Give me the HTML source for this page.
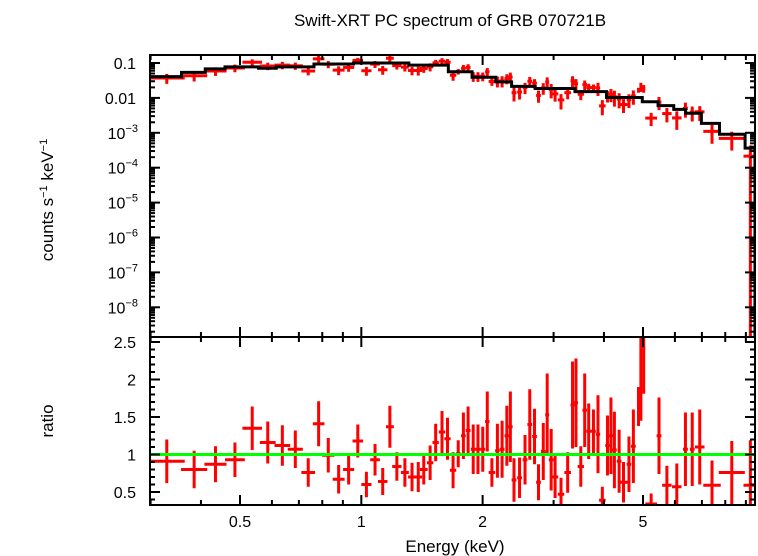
<!DOCTYPE html>
<html><head><meta charset="utf-8"><style>
html,body{margin:0;padding:0;background:#fff;}
svg{display:block;font-family:"Liberation Sans",sans-serif;}
</style></head><body>
<svg id="chart" width="758" height="556" viewBox="0 0 758 556" xmlns="http://www.w3.org/2000/svg">
<text x="450" y="26" font-size="17" text-anchor="middle">Swift-XRT PC spectrum of GRB 070721B</text>
<text x="455" y="552" font-size="17" text-anchor="middle">Energy (keV)</text>
<text transform="translate(53,200) rotate(-90)" font-size="17" text-anchor="middle">counts s<tspan dy="-6" font-size="11">−1</tspan><tspan dy="6"> keV</tspan><tspan dy="-6" font-size="11">−1</tspan></text>
<text transform="translate(53,421) rotate(-90)" font-size="17" text-anchor="middle">ratio</text>
<defs>
<clipPath id="ctop"><rect x="150" y="55" width="605" height="282"/></clipPath>
<clipPath id="cbot"><rect x="150" y="337" width="605" height="168"/></clipPath>
</defs>
<g id="topPanel" clip-path="url(#ctop)"></g>
<g id="botPanel" clip-path="url(#cbot)"></g>
<g id="axes"></g>
</svg>
<script>
// model step function: bin edges (keV) and log10 counts
const modelEdges=[0.299,0.358,0.410,0.459,0.556,0.615,0.763,0.956,1.312,1.644,1.883,2.157,2.36,2.70,3.39,4.06,4.98,5.45,5.96,6.38,6.98,7.74,8.96,9.48];
const modelLog=[-1.39,-1.27,-1.17,-1.11,-1.15,-1.11,-1.03,-1.0,-1.06,-1.25,-1.41,-1.54,-1.67,-1.73,-1.82,-1.99,-2.11,-2.22,-2.33,-2.44,-2.73,-3.04,-3.44];
// data bins
const eLo=[0.297,0.357,0.408,0.459,0.507,0.560,0.609,0.657,0.710,0.758,0.799,0.849,0.901,0.951,1.000,1.052,1.100,1.151,1.193,1.254,1.306,1.354,1.397,1.455,1.502,1.557,1.607,1.659,1.717,1.768,1.816,1.870,1.921,1.974,2.028,2.070,2.148,2.205,2.266,2.313,2.360,2.436,2.514,2.583,2.654,2.715,2.790,2.860,2.919,2.972,3.073,3.19,3.305,3.37,3.442,3.537,3.617,3.716,3.819,3.89,4.03,4.10,4.19,4.304,4.363,4.554,4.669,4.840,4.906,4.974,5.065,5.405,5.579,5.903,6.284,6.535,6.730,7.057,7.708,8.879];
const eHi=[0.3646,0.4147,0.463,0.514,0.567,0.613,0.666,0.716,0.768,0.810,0.858,0.909,0.960,1.010,1.060,1.112,1.161,1.204,1.258,1.312,1.367,1.416,1.461,1.509,1.557,1.615,1.666,1.720,1.763,1.816,1.866,1.921,1.974,2.029,2.080,2.148,2.205,2.266,2.328,2.374,2.426,2.504,2.583,2.654,2.727,2.790,2.867,2.925,2.999,3.081,3.188,3.313,3.381,3.449,3.568,3.631,3.716,3.819,3.914,4.038,4.134,4.228,4.304,4.422,4.586,4.676,4.797,4.906,4.974,5.065,5.417,5.554,5.888,6.232,6.462,6.715,7.105,7.796,8.946,9.604];
const ratio=[0.91,0.80,0.87,0.93,1.35,1.16,1.12,1.07,0.76,1.41,0.99,0.67,0.80,1.18,0.60,0.93,0.64,1.37,0.84,0.76,0.70,0.70,0.80,0.89,1.16,1.30,1.21,0.79,1.01,1.25,1.32,1.07,1.07,1.07,1.44,0.76,1.05,1.07,1.25,1.37,0.66,0.69,0.93,1.40,1.24,0.63,1.04,1.53,0.93,0.70,0.47,0.76,1.66,1.69,0.84,1.59,1.31,1.31,1.27,0.39,1.12,1.25,1.06,0.91,0.63,0.87,1.11,1.64,2.05,2.41,0.34,1.25,0.59,0.57,1.07,1.07,1.10,0.59,0.76,0.59];
const ratioErr=[0.29,0.25,0.24,0.23,0.29,0.28,0.27,0.25,0.19,0.30,0.23,0.19,0.20,0.22,0.17,0.21,0.18,0.28,0.19,0.19,0.19,0.20,0.20,0.23,0.25,0.28,0.28,0.24,0.18,0.31,0.32,0.33,0.33,0.30,0.40,0.19,0.36,0.38,0.40,0.47,0.29,0.27,0.33,0.47,0.37,0.24,0.38,0.55,0.41,0.28,0.22,0.27,0.58,0.59,0.27,0.49,0.37,0.29,0.52,0.18,0.40,0.51,0.51,0.42,0.27,0.37,0.49,0.26,0.6,0.6,0.14,0.51,0.26,0.31,0.49,0.49,0.50,0.33,0.42,0.6];
const xTicks=[0.5,1,2,5];
const xTickLabels=["0.5","1","2","5"];
const yTopExps=[-1,-2,-3,-4,-5,-6,-7,-8];
const yTopLabels=["0.1","0.01","10-3","10-4","10-5","10-6","10-7","10-8"];
const yBotTicks=[0.5,1,1.5,2,2.5];
const yBotLabels=["0.5","1","1.5","2","2.5"];

const NS="http://www.w3.org/2000/svg";
const X0=150,X1=755,TY0=55,TY1=337,BY0=337,BY1=505;
const xs=e=>240+403*Math.log10(e/0.5);
const yt=v=>v<=0?TY1+20:63+34.9*(-1-Math.log10(v));
const yb=r=>342+75*(2.5-r);
function mk(tag,attrs,parent){const el=document.createElementNS(NS,tag);for(const k in attrs)el.setAttribute(k,attrs[k]);parent.appendChild(el);return el;}
const topG=document.getElementById('topPanel'),botG=document.getElementById('botPanel'),axes=document.getElementById('axes');
function modelAt(e){for(let i=0;i<modelLog.length;i++){if(e<modelEdges[i+1])return Math.pow(10,modelLog[i]);}return Math.pow(10,modelLog[modelLog.length-1]);}

for(let i=0;i<ratio.length;i++){
  const ec=Math.sqrt(eLo[i]*eHi[i]);const m=modelAt(ec);
  const v=m*ratio[i],lo=m*(ratio[i]-ratioErr[i]),hi=m*(ratio[i]+ratioErr[i]);
  const g=mk('g',{stroke:'#ff0000','stroke-width':3},topG);
  
  
  mk('line',{x1:xs(eLo[i]),x2:xs(eHi[i]),y1:yt(v),y2:yt(v)},g);
  mk('line',{x1:xs(ec),x2:xs(ec),y1:yt(hi),y2:yt(lo)},g);
  const g2=mk('g',{stroke:'#ff0000','stroke-width':3},botG);
  
  
  mk('line',{x1:xs(eLo[i]),x2:xs(eHi[i]),y1:yb(ratio[i]),y2:yb(ratio[i])},g2);
  mk('line',{x1:xs(ec),x2:xs(ec),y1:yb(ratio[i]+ratioErr[i]),y2:yb(ratio[i]-ratioErr[i])},g2);
}
let d='';
for(let i=0;i<modelLog.length;i++){
  const y=yt(Math.pow(10,modelLog[i]));
  d+=(i===0?'M':'L')+xs(modelEdges[i])+','+y+' L'+xs(modelEdges[i+1])+','+y+' ';
}
d+='L'+xs(modelEdges[modelEdges.length-1])+','+(TY1+10);
const mp=mk('path',{d:d,fill:'none',stroke:'#000','stroke-width':3},topG);


const gl=mk('line',{x1:X0,x2:X1,y1:yb(1),y2:yb(1),stroke:'#00ff00','stroke-width':3},botG);



const f1=mk('rect',{x:X0,y:TY0,width:X1-X0,height:TY1-TY0,fill:'none',stroke:'#000','stroke-width':2},axes);


const f2=mk('rect',{x:X0,y:BY0,width:X1-X0,height:BY1-BY0,fill:'none',stroke:'#000','stroke-width':2},axes);


const minorX=[0.3,0.4,0.6,0.7,0.8,0.9,3,4,6,7,8,9];
function xt(e,len){
  const x=xs(e);
  [[TY0,1],[TY1,-1],[BY0,1],[BY1,-1]].forEach(([y,s])=>mk('line',{x1:x,x2:x,y1:y,y2:y+s*len,stroke:'#000','stroke-width':2},axes));
}
minorX.forEach(e=>xt(e,5));
xTicks.forEach((e,i)=>{xt(e,10);
  const t=mk('text',{x:xs(e),y:527,'font-size':16,'text-anchor':'middle'},axes);t.textContent=xTickLabels[i];
  
  
});
for(let ex=-9;ex<=-1;ex++){
  for(let k=1;k<=9;k++){
    const y=yt(k*Math.pow(10,ex));if(y<TY0||y>TY1)continue;
    const len=k===1?10:5;
    mk('line',{x1:X0,x2:X0+len,y1:y,y2:y,stroke:'#000','stroke-width':2},axes);
    mk('line',{x1:X1,x2:X1-len,y1:y,y2:y,stroke:'#000','stroke-width':2},axes);
  }
}
yTopExps.forEach((ex,i)=>{
  const y=yt(Math.pow(10,ex))+6;
  const t=mk('text',{x:138,y:y,'font-size':16,'text-anchor':'end'},axes);
  
  
  const lab=yTopLabels[i];
  if(lab.startsWith('10-')){t.textContent='10';const ts=mk('tspan',{dy:-7,'font-size':11},t);ts.textContent='−'+lab.slice(3);}
  else{t.setAttribute('x',136);t.textContent=lab;}
});
for(let r=0.4;r<=2.55;r+=0.1){
  const y=yb(r);if(y<BY0||y>BY1)continue;
  const major=Math.abs(r*2-Math.round(r*2))<0.01;
  const len=major?10:5;
  mk('line',{x1:X0,x2:X0+len,y1:y,y2:y,stroke:'#000','stroke-width':2},axes);
  mk('line',{x1:X1,x2:X1-len,y1:y,y2:y,stroke:'#000','stroke-width':2},axes);
}
yBotTicks.forEach((r,i)=>{
  const t=mk('text',{x:136,y:yb(r)+6,'font-size':16,'text-anchor':'end'},axes);t.textContent=yBotLabels[i];
  
  
});
</script>
</body></html>
